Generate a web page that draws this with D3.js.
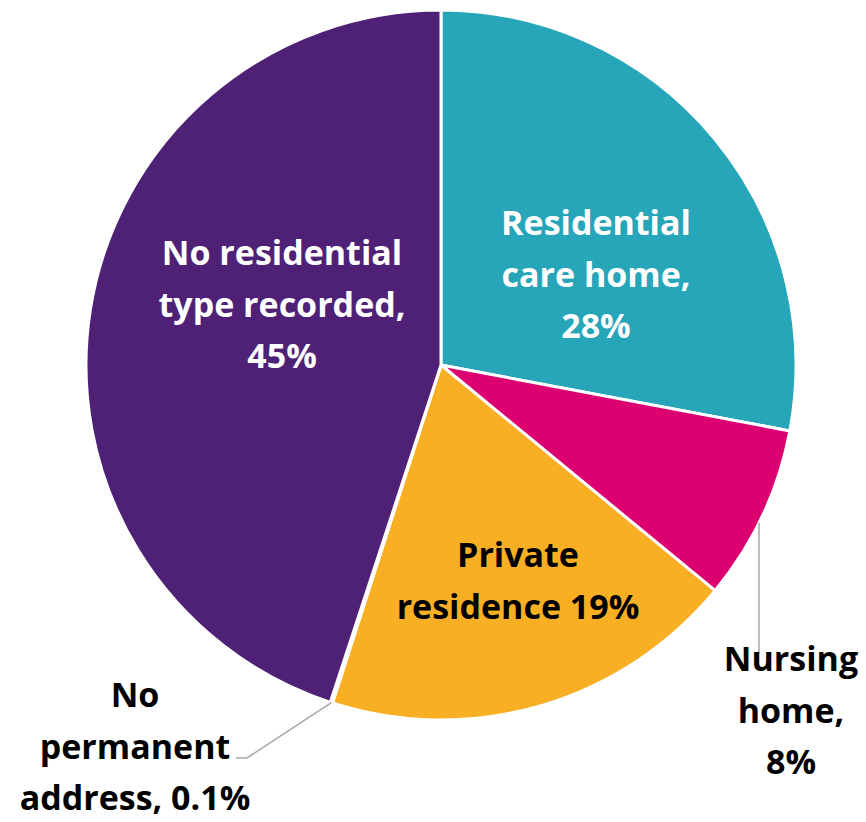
<!DOCTYPE html>
<html>
<head>
<meta charset="utf-8">
<script src="https://cdn.jsdelivr.net/npm/d3@7"></script>
<style>
  html, body { margin: 0; padding: 0; background: #ffffff; }
  svg { display: block; }
  text { font-family: "Open Sans", "Lato", sans-serif; font-weight: 700; }
</style>
</head>
<body>
<svg id="chart" width="866" height="822"></svg>
<script>
// Share of records by residence type (%)
const categories = [
  "Residential care home",
  "Nursing home",
  "Private residence",
  "No permanent address",
  "No residential type recorded"
];
const values = [28, 8, 19, 0.1, 45];
const labelLines = [
  ["Residential", "care home,", "28%"],
  ["Nursing", "home,", "8%"],
  ["Private", "residence 19%"],
  ["No", "permanent", "address, 0.1%"],
  ["No residential", "type recorded,", "45%"]
];

// Presentation settings
const colors = ["#27A5B9", "#DC0071", "#F8AF23", "#F8AF23", "#4E2177"];
const textColors = ["#ffffff", "#000000", "#000000", "#000000", "#ffffff"];
// label anchor (centre x, first baseline y) relative to the pie centre
const labelAnchors = [
  [155, -130], [350, 306], [77, 202], [-306, 342], [-159, -100]
];
const lineHeight = 51.7;
const fontSize = 34;

const width = 866, height = 822;
const cx = 441, cy = 365, radius = 355;

const svg = d3.select("#chart");
const g = svg.append("g").attr("transform", `translate(${cx},${cy})`);

const data = categories.map((c, i) => ({ category: c, value: values[i], i }));

const pie = d3.pie().sort(null).value(d => d.value);
const arcs = pie(data);
const arc = d3.arc().innerRadius(0).outerRadius(radius);

g.selectAll("path.slice")
  .data(arcs)
  .join("path")
  .attr("class", "slice")
  .attr("d", arc)
  .attr("fill", d => colors[d.data.i])
  .attr("stroke", "#ffffff")
  .attr("stroke-width", 3)
  .attr("stroke-linejoin", "round");

// Leader lines for the labels placed outside the pie
const leader = "#A6A6A6";
// Nursing home: vertical line from the rim down to the label
{
  const lx = 318;
  const ly0 = Math.sqrt(radius * radius - lx * lx);
  g.append("path")
    .attr("d", d3.line()([[lx, ly0], [lx, 288]]))
    .attr("fill", "none").attr("stroke", leader).attr("stroke-width", 1.5);
}
// No permanent address: elbow line from the slice on the rim
{
  const a = arcs[3];
  const mid = (a.startAngle + a.endAngle) / 2;
  const p0 = [radius * Math.sin(mid), -radius * Math.cos(mid)];
  g.append("path")
    .attr("d", d3.line()([p0, [-194, 393], [-205, 393]]))
    .attr("fill", "none").attr("stroke", leader).attr("stroke-width", 1.5);
}

// Labels
arcs.forEach(a => {
  const i = a.data.i;
  const [ax, ay] = labelAnchors[i];
  const t = g.append("text")
    .attr("text-anchor", "middle")
    .attr("font-size", fontSize)
    .attr("fill", textColors[i]);
  labelLines[i].forEach((line, j) => {
    t.append("tspan")
      .attr("x", ax)
      .attr("y", ay + j * lineHeight)
      .text(line);
  });
});
</script>
</body>
</html>
